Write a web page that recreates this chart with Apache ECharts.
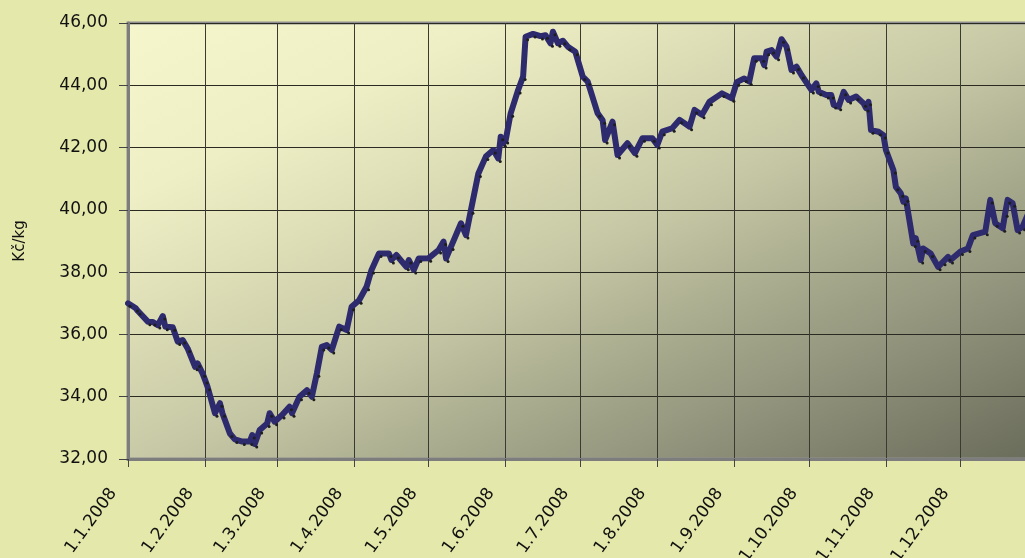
<!DOCTYPE html>
<html>
<head>
<meta charset="utf-8">
<script src="https://cdn.jsdelivr.net/npm/echarts@6/dist/echarts.min.js"></script>
<style>
html,body{margin:0;padding:0;background:#e4e8aa;}
#c{width:1025px;height:558px;}
</style>
</head>
<body>
<div id="c"></div>
<script>
const dates = ['2008-01-01','2008-01-04','2008-01-05','2008-01-09','2008-01-11','2008-01-13','2008-01-15','2008-01-16','2008-01-19','2008-01-21','2008-01-23','2008-01-25','2008-01-28','2008-01-29','2008-01-31',
'2008-02-01','2008-02-02','2008-02-05','2008-02-07','2008-02-08','2008-02-11','2008-02-13','2008-02-16','2008-02-19','2008-02-20','2008-02-21','2008-02-23','2008-02-26','2008-02-27','2008-02-29',
'2008-03-03','2008-03-06','2008-03-07','2008-03-10','2008-03-13','2008-03-15','2008-03-17','2008-03-19','2008-03-21','2008-03-23','2008-03-26','2008-03-29','2008-03-31',
'2008-04-03','2008-04-06','2008-04-08','2008-04-11','2008-04-15','2008-04-16','2008-04-18','2008-04-22','2008-04-23','2008-04-25','2008-04-27',
'2008-05-01','2008-05-05','2008-05-07','2008-05-08','2008-05-10','2008-05-14','2008-05-16','2008-05-18','2008-05-21','2008-05-24','2008-05-27','2008-05-29','2008-05-30','2008-05-31',
'2008-06-01','2008-06-03','2008-06-06','2008-06-08','2008-06-09','2008-06-12','2008-06-15','2008-06-17','2008-06-19','2008-06-20','2008-06-22','2008-06-24','2008-06-26','2008-06-29',
'2008-07-02','2008-07-04','2008-07-08','2008-07-10','2008-07-11','2008-07-14','2008-07-16','2008-07-20','2008-07-23','2008-07-26','2008-07-30',
'2008-08-01','2008-08-03','2008-08-07','2008-08-10','2008-08-14','2008-08-16','2008-08-19','2008-08-22','2008-08-27','2008-08-31',
'2008-09-02','2008-09-05','2008-09-07','2008-09-09','2008-09-12','2008-09-13','2008-09-14','2008-09-16','2008-09-18','2008-09-20','2008-09-22','2008-09-24','2008-09-26','2008-09-28',
'2008-10-02','2008-10-04','2008-10-05','2008-10-08','2008-10-10','2008-10-11','2008-10-13','2008-10-15','2008-10-17','2008-10-20','2008-10-23','2008-10-24','2008-10-25','2008-10-26','2008-10-29','2008-10-31',
'2008-11-01','2008-11-04','2008-11-05','2008-11-07','2008-11-08','2008-11-09','2008-11-12','2008-11-13','2008-11-15','2008-11-16','2008-11-19','2008-11-22','2008-11-24','2008-11-26','2008-11-27',
'2008-12-01','2008-12-04','2008-12-06','2008-12-11','2008-12-13','2008-12-15','2008-12-18','2008-12-19','2008-12-20','2008-12-22','2008-12-24','2008-12-26','2008-12-28','2008-12-30'];
const prices = [37.00,36.85,36.75,36.41,36.40,36.30,36.59,36.25,36.23,35.77,35.82,35.55,34.96,35.07,34.75,
34.54,34.32,33.47,33.79,33.47,32.82,32.63,32.56,32.56,32.77,32.48,32.93,33.14,33.47,33.20,
33.41,33.68,33.47,34.00,34.21,34.00,34.75,35.60,35.66,35.50,36.25,36.14,36.89,
37.10,37.53,38.07,38.60,38.60,38.39,38.55,38.17,38.39,38.07,38.44,
38.45,38.71,38.98,38.44,38.82,39.57,39.19,39.99,41.17,41.71,41.92,41.65,42.35,42.14,
42.24,43.10,43.85,44.28,45.56,45.65,45.58,45.61,45.35,45.72,45.35,45.43,45.24,45.08,
44.28,44.12,43.10,42.88,42.24,42.83,41.76,42.14,41.82,42.30,42.30,
42.08,42.51,42.62,42.89,42.67,43.21,43.05,43.47,43.74,43.58,
44.10,44.22,44.12,44.87,44.87,44.65,45.08,45.13,44.92,45.48,45.24,44.49,44.60,44.33,
43.85,44.06,43.79,43.69,43.69,43.37,43.31,43.79,43.53,43.64,43.42,43.27,43.47,42.56,42.51,42.40,
41.92,41.28,40.74,40.53,40.26,40.37,38.92,39.09,38.39,38.76,38.60,38.17,38.33,38.49,38.39,
38.66,38.76,39.19,39.30,40.32,39.57,39.41,39.89,40.32,40.21,39.35,39.46,39.83,40.05];
const monthLabels = ['1.1.2008','1.2.2008','1.3.2008','1.4.2008','1.5.2008','1.6.2008','1.7.2008','1.8.2008','1.9.2008','1.10.2008','1.11.2008','1.12.2008'];
const yTickLabels = {32:'32,00',34:'34,00',36:'36,00',38:'38,00',40:'40,00',42:'42,00',44:'44,00',46:'46,00'};
const yName = 'Kč/kg';

const chart = echarts.init(document.getElementById('c'), null, {renderer:'canvas'});
const DAY = 86400000;
chart.setOption({
  backgroundColor: '#e4e8aa',
  animation: false,
  grid: {
    left: 128, top: 23, bottom: 99, width: 907,
    containLabel: false,
    outerBoundsMode: 'none',
    show: true,
    backgroundColor: new echarts.graphic.LinearGradient(128, 23, 468.5, 731.3, [
      {offset: 0, color: '#f5f6cb'},
      {offset: 0.2, color: '#eeefc5'},
      {offset: 0.32, color: '#e0e1b8'},
      {offset: 0.5, color: '#c8caa7'},
      {offset: 0.6, color: '#b4b697'},
      {offset: 0.8, color: '#8f917a'},
      {offset: 1, color: '#6a6c5b'}
    ], true),
    borderColor: '#8f8f8f',
    borderWidth: 3
  },
  xAxis: {
    type: 'time',
    min: '2008-01-01',
    max: '2008-12-31',
    splitNumber: 12,
    minInterval: 28 * DAY,
    maxInterval: 31 * DAY,
    axisLine: {show: true, lineStyle: {color: '#7d7d7d', width: 3}},
    axisTick: {show: true, length: 8, lineStyle: {color: '#444', width: 1}},
    splitLine: {show: true, lineStyle: {color: '#3a3a30', width: 1}},
    axisLabel: {
      rotate: 54,
      hideOverlap: false,
      color: '#111',
      fontFamily: 'DejaVu Sans',
      fontSize: 17,
      margin: 11,
      padding: [0, 25, 0, 0],
      formatter: function (v) { return monthLabels[new Date(v).getMonth()]; }
    }
  },
  yAxis: {
    type: 'value',
    min: 32, max: 46, interval: 2,
    name: yName,
    nameLocation: 'middle',
    nameGap: 100,
    nameTextStyle: {fontFamily: 'DejaVu Sans', fontSize: 15, color: '#111'},
    axisLine: {show: true, lineStyle: {color: '#7d7d7d', width: 3}},
    axisTick: {show: true, length: 9, lineStyle: {color: '#444', width: 1}},
    splitLine: {show: true, lineStyle: {color: '#2a2a22', width: 1}},
    axisLabel: {
      color: '#111',
      fontFamily: 'DejaVu Sans',
      fontSize: 17,
      margin: 20,
      formatter: function (v) { return yTickLabels[v]; }
    }
  },
  series: [{
    type: 'line',
    data: dates.map((d, i) => [d, prices[i]]),
    showSymbol: true,
    symbol: 'circle',
    symbolSize: 3,
    symbolOffset: [2, 3],
    itemStyle: {color: '#1e1e1e'},
    lineStyle: {color: '#2d2a6e', width: 6, join: 'round', cap: 'round'},
    z: 3
  }]
});
</script>
</body>
</html>
